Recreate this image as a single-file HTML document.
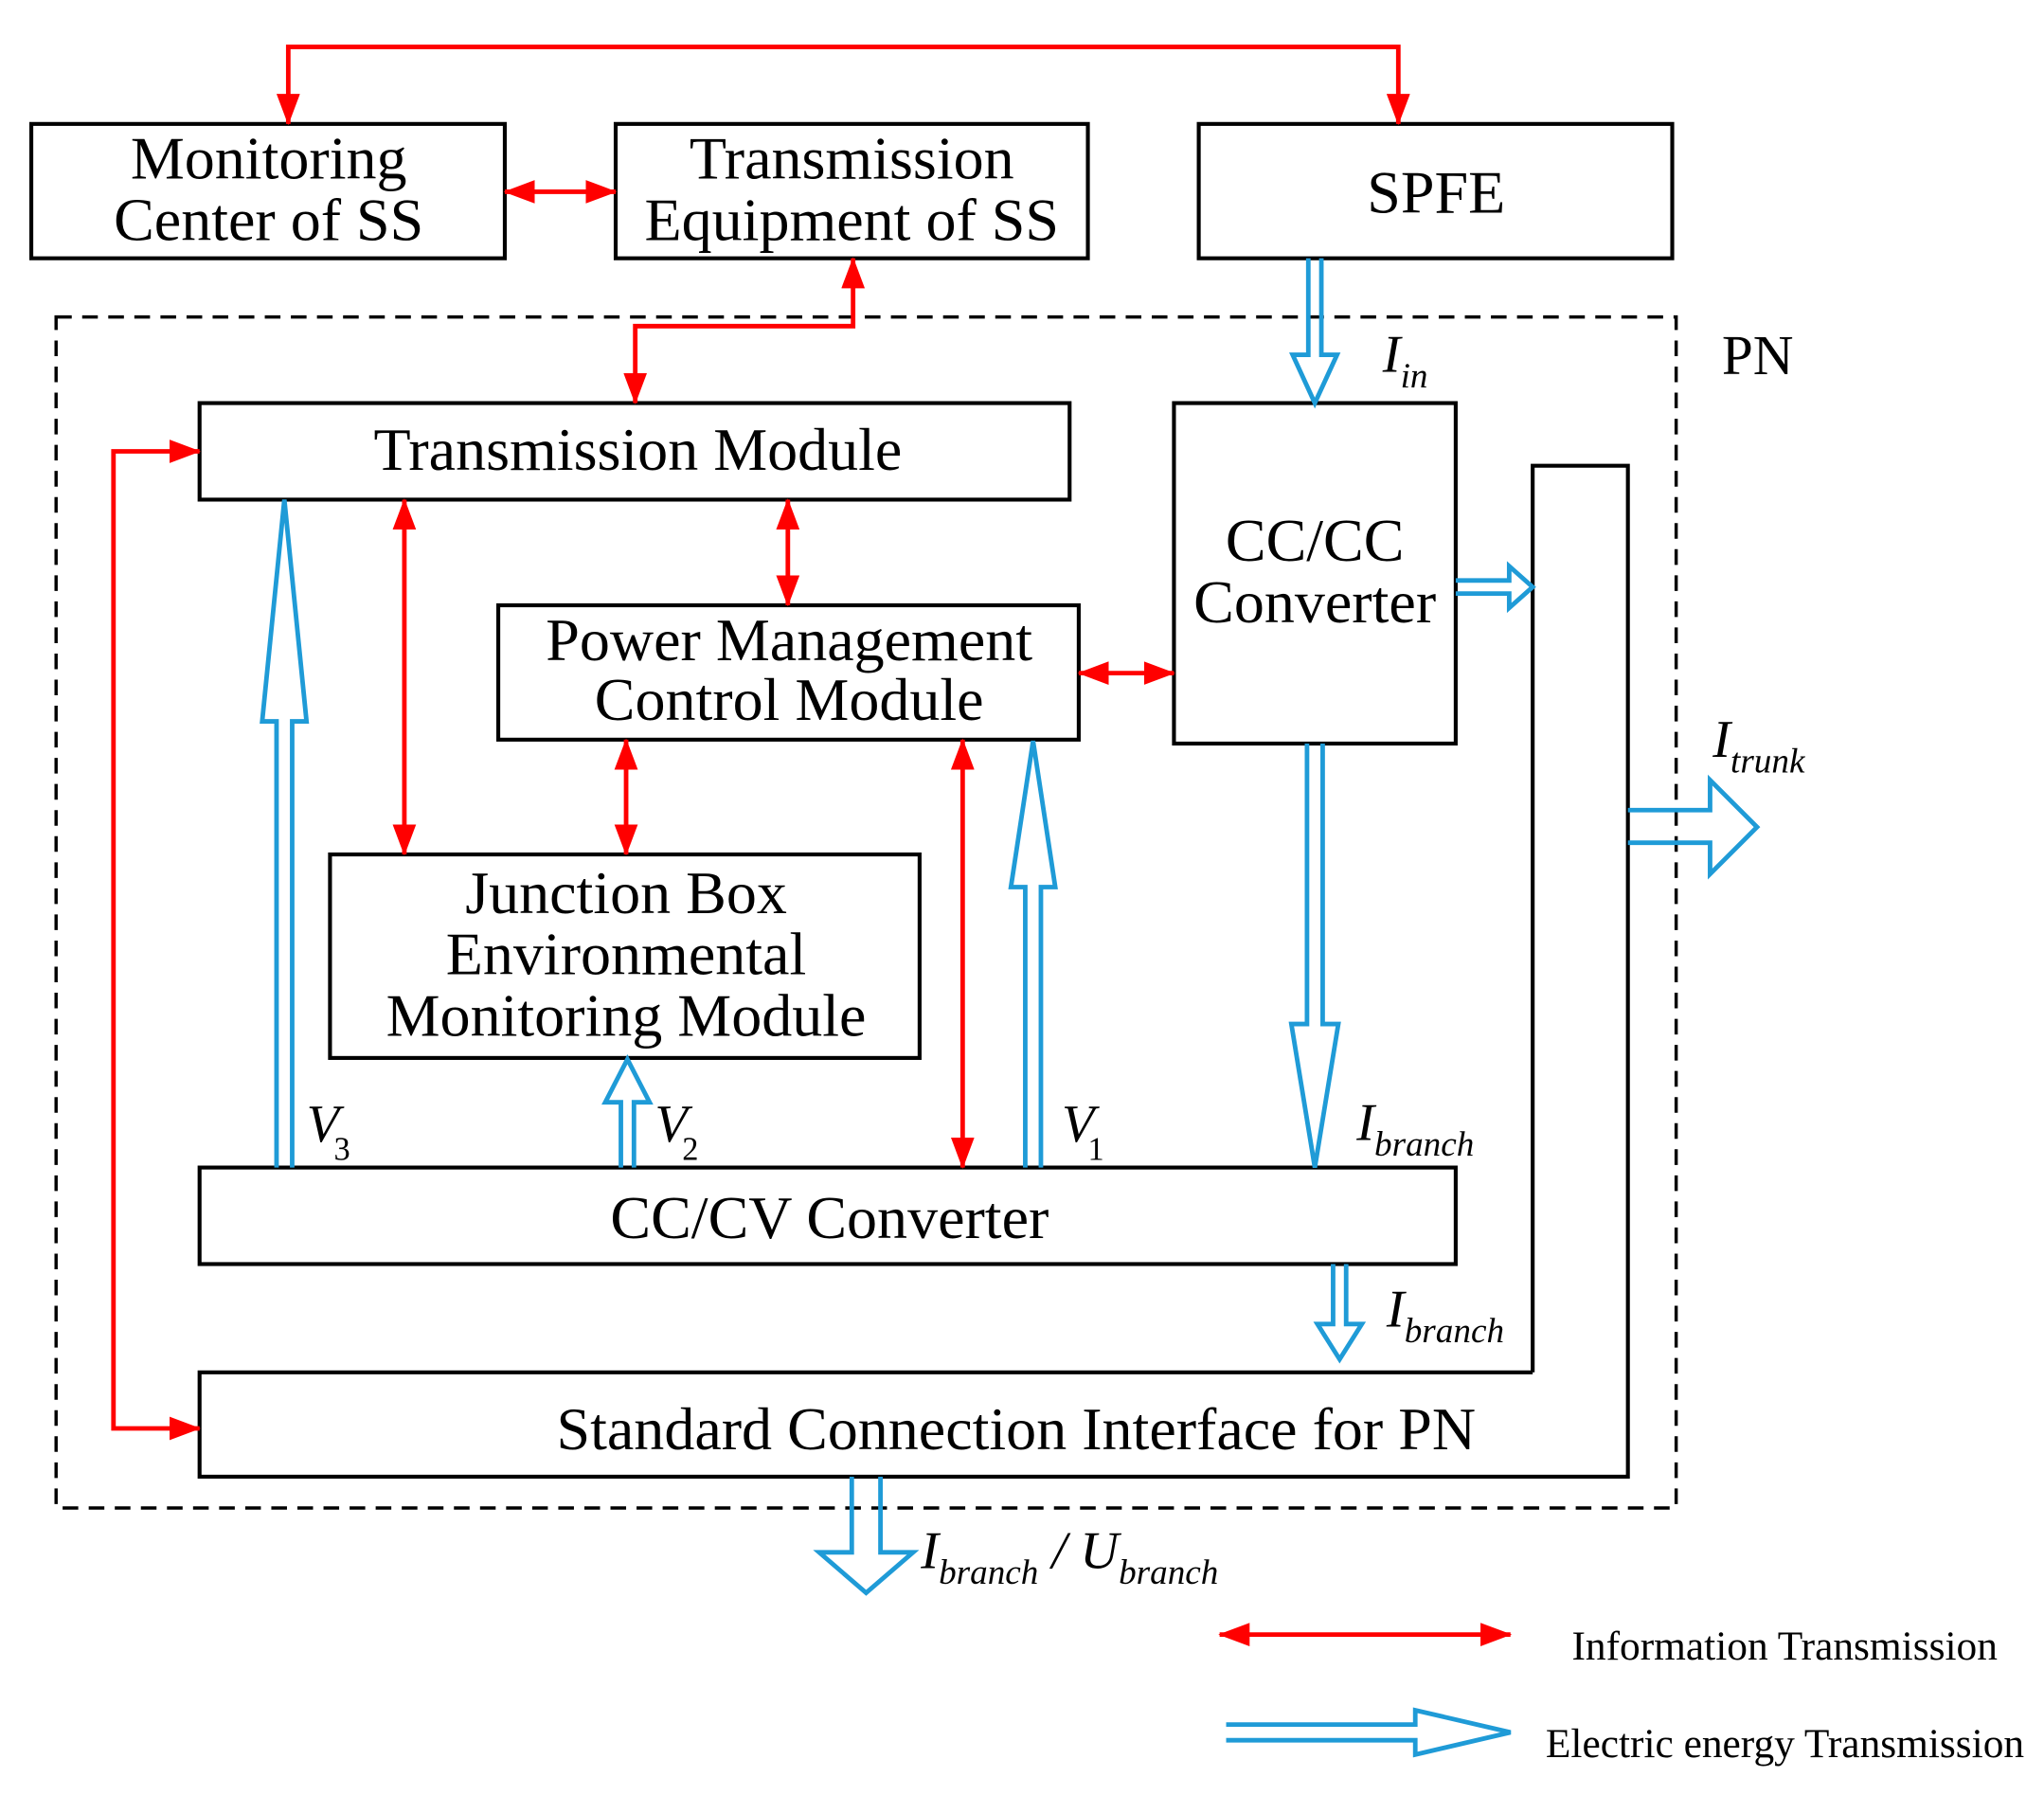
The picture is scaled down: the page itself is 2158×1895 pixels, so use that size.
<!DOCTYPE html>
<html><head><meta charset="utf-8"><style>
html,body{margin:0;padding:0;background:#fff;}
svg{display:block;}
text{font-family:"Liberation Serif",serif;fill:#000;}
</style></head><body>
<svg width="2158" height="1895" viewBox="0 0 1567 1376" preserveAspectRatio="none" xmlns="http://www.w3.org/2000/svg">
<defs>
<marker id="ah" markerUnits="userSpaceOnUse" markerWidth="24" markerHeight="18" refX="23" refY="9" orient="auto-start-reverse">
<path d="M0 0 L24 9 L0 18 Z" fill="#ff0000"/>
</marker>
</defs>
<g fill="none" stroke="#000" stroke-width="3">
<rect x="24" y="95" width="363" height="103"/>
<rect x="472" y="95" width="362" height="103"/>
<rect x="919" y="95" width="363" height="103"/>
<rect x="43" y="243" width="1242" height="913" stroke-width="2.5" stroke-dasharray="12,8"/>
<rect x="153" y="309" width="667" height="74"/>
<rect x="900" y="309" width="216" height="261"/>
<rect x="382" y="464" width="445" height="103"/>
<rect x="253" y="655" width="452" height="156"/>
<rect x="153" y="895" width="963" height="74"/>
<path d="M1175 1052 V357 H1248 V1132 H153 V1052 H1175"/>
</g>
<g fill="none" stroke="#ff0000" stroke-width="3.5">
<path d="M221 95 V36 H1072 V95" marker-start="url(#ah)" marker-end="url(#ah)"/>
<path d="M387 147 H472" marker-start="url(#ah)" marker-end="url(#ah)"/>
<path d="M654 198 V250 H487 V309" marker-start="url(#ah)" marker-end="url(#ah)"/>
<path d="M153 346 H87 V1095 H153" marker-start="url(#ah)" marker-end="url(#ah)"/>
<path d="M604 383 V464" marker-start="url(#ah)" marker-end="url(#ah)"/>
<path d="M827 516 H900" marker-start="url(#ah)" marker-end="url(#ah)"/>
<path d="M310 383 V655" marker-start="url(#ah)" marker-end="url(#ah)"/>
<path d="M480 567 V655" marker-start="url(#ah)" marker-end="url(#ah)"/>
<path d="M738 567 V895" marker-start="url(#ah)" marker-end="url(#ah)"/>
<path d="M935 1253 H1158" marker-start="url(#ah)" marker-end="url(#ah)"/>
</g>
<g fill="none" stroke="#1f9bd7" stroke-width="3.5" stroke-linejoin="miter">
<path d="M1003 198 V272 H991 L1008 309 L1025 272 H1013 V198"/>
<path d="M1116 445 H1157 V434 L1175 450 L1157 466 V455 H1116"/>
<path d="M1248 621 H1311 V598 L1347 634 L1311 670 V646 H1248"/>
<path d="M1002 570 V785 H990 L1008 895 L1026 785 H1014 V570"/>
<path d="M786 895 V680 H775 L792 568 L809 680 H798 V895"/>
<path d="M212 895 V553 H201 L218 383 L235 553 H224 V895"/>
<path d="M476 895 V845 H464 L481 812 L498 845 H486 V895"/>
<path d="M1022 969 V1015 H1010 L1027 1042 L1044 1015 H1032 V969"/>
<path d="M653 1132 V1190 H628 L664 1221 L700 1190 H675 V1132"/>
<path d="M940 1322 H1085 V1311 L1158 1328 L1085 1345 V1334 H940"/>
</g>
<g font-size="46.5" text-anchor="middle">
<text x="206" y="137">Monitoring</text>
<text x="206" y="184">Center of SS</text>
<text x="653" y="137">Transmission</text>
<text x="653" y="184">Equipment of SS</text>
<text x="1101" y="163">SPFE</text>
<text x="489" y="360">Transmission Module</text>
<text x="1008" y="430">CC/CC</text>
<text x="1008" y="477">Converter</text>
<text x="605" y="506">Power Management</text>
<text x="605" y="552">Control Module</text>
<text x="480" y="700">Junction Box</text>
<text x="480" y="747">Environmental</text>
<text x="480" y="794">Monitoring Module</text>
<text x="636" y="949">CC/CV Converter</text>
<text x="779" y="1111">Standard Connection Interface for PN</text>
</g>
<text x="1320" y="287" font-size="43">PN</text>
<g font-style="italic">
<text x="1060" y="285" font-size="41">I<tspan font-size="27" dy="12">in</tspan></text>
<text x="1313" y="580" font-size="41">I<tspan font-size="27" dy="12">trunk</tspan></text>
<text x="1040" y="874" font-size="41">I<tspan font-size="27" dy="12">branch</tspan></text>
<text x="1063" y="1017" font-size="41">I<tspan font-size="27" dy="12">branch</tspan></text>
<text x="706" y="1202" font-size="41">I<tspan font-size="27" dy="12">branch</tspan><tspan dy="-12" font-size="41"> / U</tspan><tspan font-size="27" dy="12">branch</tspan></text>
<text x="235" y="875" font-size="41">V</text>
<text x="502" y="875" font-size="41">V</text>
<text x="814" y="875" font-size="41">V</text>
</g>
<text x="256" y="889" font-size="25">3</text>
<text x="523" y="889" font-size="25">2</text>
<text x="834" y="889" font-size="25">1</text>
<text x="1205" y="1272" font-size="31.5">Information Transmission</text>
<text x="1185" y="1347" font-size="31.5">Electric energy Transmission</text>
</svg>
</body></html>
